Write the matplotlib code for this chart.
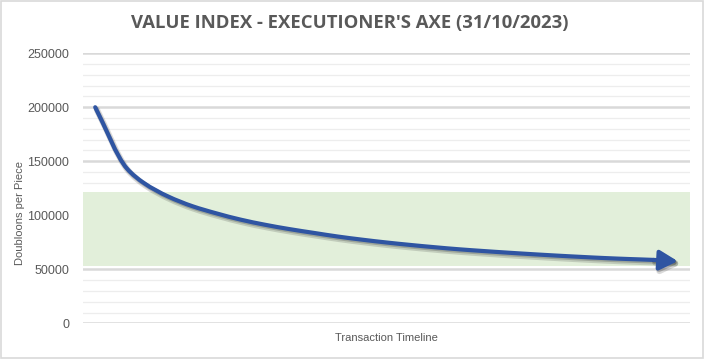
import matplotlib
matplotlib.use("Agg")
import matplotlib.pyplot as plt
import matplotlib.patheffects as pe
from matplotlib.patches import Rectangle, PathPatch
from matplotlib.path import Path

# ---- data ----
title = "VALUE INDEX - EXECUTIONER'S AXE (31/10/2023)"
x_label = "Transaction Timeline"
y_label = "Doubloons per Piece"
timeline = [0, 1.3, 2, 3, 4, 5, 6, 7, 8, 9, 10, 11, 12, 13, 14, 15, 16, 17, 18,
            19, 20, 21, 22, 23, 24]
values = [200000, 143500, 130000, 117500, 108500, 101800, 96000, 91300, 87300,
          83800, 80400, 77500, 74900, 72600, 70500, 68600, 67000, 65500, 64100,
          62800, 61600, 60500, 59600, 58800, 57600]
band_low, band_high = 53500, 121500
y_ticks = [0, 50000, 100000, 150000, 200000, 250000]

plt.rcParams['font.family'] = ['Liberation Sans', 'DejaVu Sans']
grey = '#595959'
line_col = '#2f55a2'

fig = plt.figure(figsize=(7.04, 3.59), dpi=100)
fig.patches.append(Rectangle((0.001, 0.002), 0.997, 0.995, transform=fig.transFigure,
                             fill=False, edgecolor='#d9d9d9', lw=1.2))
ax = fig.add_axes([0.118, 0.0989, 0.862, 0.753])

ax.set_xlim(-0.5, 24.5)
ax.set_ylim(0, 250000)

ax.axhspan(band_low, band_high, color='#e2efda', zorder=1, lw=0)

ax.set_yticks(y_ticks)
ax.set_yticks(range(0, 250001, 10000), minor=True)
ax.grid(axis='y', which='major', color='#d9d9d9', lw=1.8, zorder=0)
ax.grid(axis='y', which='minor', color='#ededed', lw=0.9, zorder=0)
ax.set_axisbelow(True)
ax.tick_params(axis='y', which='both', length=0, labelsize=9, labelcolor=grey, pad=10)
ax.set_xticks([])
for s in ax.spines.values():
    s.set_visible(False)

# smoothed line (monotone cubic -> Bezier) through points 0..n-2, arrow on last segment
xs, ys = timeline, values
n = len(xs)
h = [xs[k + 1] - xs[k] for k in range(n - 1)]
d = [(ys[k + 1] - ys[k]) / h[k] for k in range(n - 1)]
m = [d[0]] + [0.0] * (n - 2) + [d[-1]]
for k in range(1, n - 1):
    if d[k - 1] * d[k] > 0:
        w1 = 2 * h[k] + h[k - 1]
        w2 = h[k] + 2 * h[k - 1]
        m[k] = (w1 + w2) / (w1 / d[k - 1] + w2 / d[k])
verts = [(xs[0], ys[0])]
codes = [Path.MOVETO]
for k in range(n - 2):
    verts += [(xs[k] + h[k] / 3, ys[k] + m[k] * h[k] / 3),
              (xs[k + 1] - h[k] / 3, ys[k + 1] - m[k + 1] * h[k] / 3),
              (xs[k + 1], ys[k + 1])]
    codes += [Path.CURVE4] * 3

shadow = [pe.SimpleLineShadow(offset=(1.2, -1.8), shadow_color='#303030', alpha=0.18, linewidth=4.5),
          pe.SimpleLineShadow(offset=(0.8, -1.2), shadow_color='#303030', alpha=0.25),
          pe.Normal()]
patch = PathPatch(Path(verts, codes), fill=False, edgecolor=line_col, lw=3.0,
                  capstyle='round', joinstyle='round', zorder=3, path_effects=shadow)
ax.add_patch(patch)
ax.annotate('', xy=(xs[-1], ys[-1]), xytext=(xs[-2], ys[-2]),
            arrowprops=dict(arrowstyle='-|>,head_length=0.55,head_width=0.3',
                            color=line_col, lw=3.0, shrinkA=0, shrinkB=0,
                            mutation_scale=20, path_effects=shadow),
            zorder=3)

ax.set_ylabel(y_label, fontsize=8, color=grey)
ax.yaxis.set_label_coords(-0.0955, 0.41)
ax.set_xlabel(x_label, fontsize=8, color=grey)
ax.xaxis.set_label_coords(0.5, -0.037)

fig.text(0.497, 0.935, title, ha='center', va='center', fontsize=13.3, fontweight='bold',
         color=grey, family=['Open Sans', 'DejaVu Sans'])

fig.savefig('out.png', dpi=100)
